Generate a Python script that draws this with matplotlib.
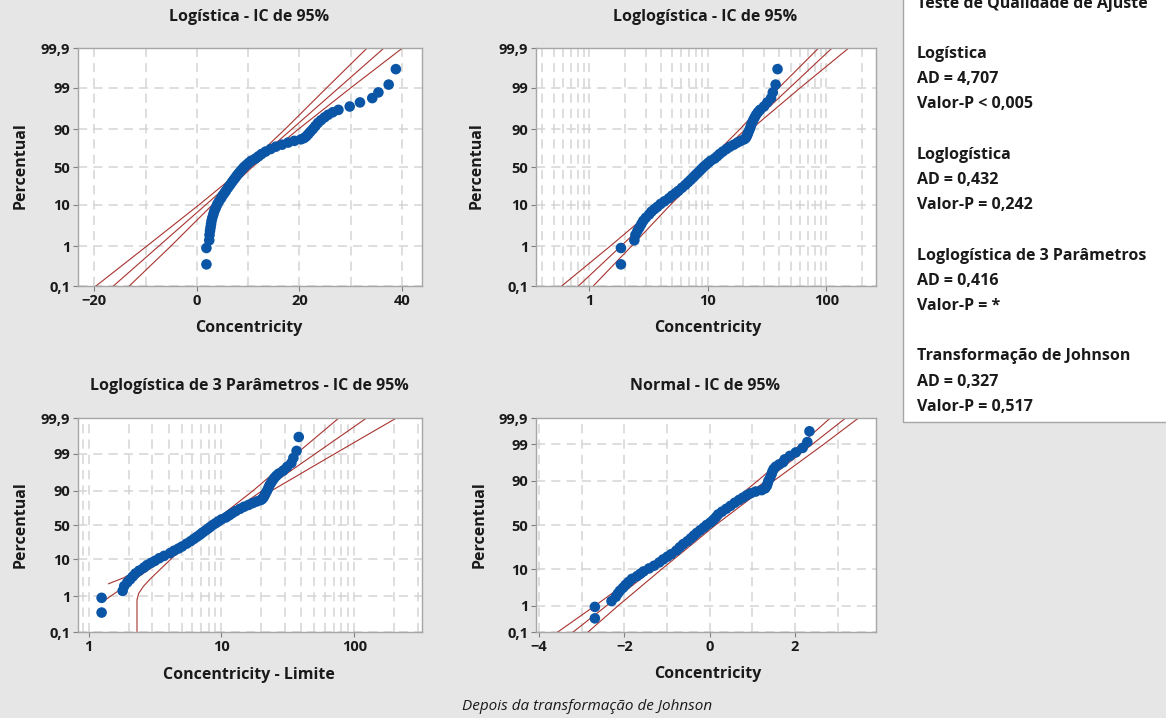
import numpy as np
import matplotlib
matplotlib.use('Agg')
import matplotlib.pyplot as plt
from matplotlib.patches import Rectangle
from matplotlib.ticker import NullLocator, FixedLocator
from statistics import NormalDist

plt.rcParams['font.family'] = ['Open Sans', 'DejaVu Sans']

# percentis (posicao de plotagem) - mesma amostra nos quatro graficos
pct = [0.35, 0.9, 1.4, 1.9, 2.4, 2.9, 3.5, 4.2, 5.0, 6.0, 7.0, 8.0, 9.0, 10.5,
       12, 14, 16, 18, 20, 23, 26, 29, 32, 35, 38, 41, 44, 47, 50, 53, 56, 59,
       62, 65, 68, 71, 74, 76.5, 78.5, 80.5, 82, 83.3, 84.3, 85.5, 87, 88.5, 90,
       91.5, 92.8, 93.8, 94.7, 95.4, 96.0, 96.5, 97.1, 97.7, 98.2, 98.7, 99.17, 99.66]

# Concentricity (dados originais)
conc = [1.85, 1.85, 2.4, 2.45, 2.55, 2.65, 2.75, 2.85, 3.0, 3.2, 3.35, 3.55, 3.75, 4.0,
        4.3, 4.7, 5.0, 5.35, 5.65, 6.05, 6.45, 6.8, 7.15, 7.5, 7.8, 8.15, 8.5, 8.85, 9.2, 9.65, 10.1, 10.6,
        11.4, 12.0, 12.6, 13.4, 14.4, 15.4, 16.6, 17.8, 19.0, 20.3, 20.9, 21.3, 21.7, 22.1, 22.6,
        23.1, 23.6, 24.2, 24.9, 25.6, 26.5, 27.6, 29.8, 31.8, 34.2, 35.4, 37.4, 38.8]

# limite (threshold) da loglogistica de 3 parametros
limite = 0.6

# dados depois da transformacao de Johnson
johnson = [-2.69, -2.69, -2.30, -2.20, -2.15, -2.10, -2.03, -1.97, -1.90, -1.82, -1.70, -1.62, -1.55, -1.42,
           -1.30, -1.18, -1.09, -0.99, -0.90, -0.78, -0.70, -0.62, -0.52, -0.44, -0.37, -0.30, -0.22, -0.14,
           -0.07, 0.02, 0.09, 0.15, 0.20, 0.29, 0.39, 0.49, 0.59, 0.69, 0.78, 0.87, 0.96, 1.08, 1.22, 1.30,
           1.34, 1.36, 1.38, 1.42, 1.45, 1.47, 1.50, 1.55, 1.63, 1.72, 1.76, 1.88, 2.02, 2.18, 2.29, 2.34]

# linha ajustada e IC de 95%
ci_pct = [0.1, 1, 10, 50, 90, 99, 99.9]
fit_pct = [0.1, 99.9]

logis_fit = [-16.3, 36.5]
logis_lo = [-19.7, -9.8, 0.4, 9.4, 17.2, 25.3, 33.2]
logis_hi = [-13.2, -5.1, 3.0, 10.8, 19.8, 30.0, 40.1]

loglog_fit = [0.81, 112]
loglog_lo = [0.585, 1.50, 3.88, 8.97, 18.7, 39.8, 86.3]
loglog_hi = [1.08, 2.27, 4.84, 10.07, 23.3, 60.3, 155]

ll3_fit_pct = [0.8, 99.9]
ll3_fit = [1.34, 124]
ll3_lo_pct = [2.2, 3.2, 10, 50, 90, 99, 99.9]
ll3_lo = [1.41, 1.83, 3.37, 8.1, 17.2, 36.6, 76.6]
ll3_hi_pct = [0.1, 0.8, 1.2, 1.9, 3.0, 11.6, 50, 90.2, 99, 99.9]
ll3_hi = [2.31, 2.31, 2.38, 2.59, 2.91, 4.36, 9.2, 23.9, 71.2, 208]

norm_fit = [-3.2, 3.19]
norm_lo = [-3.56, -2.68, -1.51, -0.14, 1.13, 2.13, 2.83]
norm_hi = [-2.85, -2.14, -1.13, 0.14, 1.51, 2.67, 3.49]

yticks = [0.1, 1, 10, 50, 90, 99, 99.9]
ylabels = ['0,1', '1', '10', '50', '90', '99', '99,9']

resumo = ['Logística', 'AD = 4,707', 'Valor-P < 0,005', '',
          'Loglogística', 'AD = 0,432', 'Valor-P = 0,242', '',
          'Loglogística de 3 Parâmetros', 'AD = 0,416', 'Valor-P = *', '',
          'Transformação de Johnson', 'AD = 0,327', 'Valor-P = 0,517']

W, H = 1166, 718
BG = '#e6e6e6'
AZUL = '#0a55a5'
VERM = '#a8332e'
GRADE = '#d4d4d4'
TXT = '#1a1a1a'
nd = NormalDist()


def logit_fwd(p):
    p = np.clip(np.asarray(p, float), 1e-9, 100 - 1e-9)
    return np.log(p / (100 - p))


def logit_inv(v):
    return 100 / (1 + np.exp(-np.asarray(v, float)))


_ppf = np.vectorize(lambda v: nd.inv_cdf(v / 100), otypes=[float])
_cdf = np.vectorize(lambda v: nd.cdf(v) * 100, otypes=[float])


def norm_fwd(p):
    p = np.clip(np.asarray(p, float), 1e-9, 100 - 1e-9)
    return _ppf(p)


def norm_inv(v):
    return _cdf(np.asarray(v, float))


fig = plt.figure(figsize=(W / 100, H / 100), dpi=100, facecolor=BG)


def px_axes(l, t, r, b):
    return fig.add_axes([l / W, 1 - b / H, (r - l) / W, (b - t) / H])


def ftext(x, y, s, **kw):
    fig.text(x / W, 1 - y / H, s, **kw)


def prepara(ax, escala):
    if escala == 'logit':
        ax.set_yscale('function', functions=(logit_fwd, logit_inv))
    else:
        ax.set_yscale('function', functions=(norm_fwd, norm_inv))
    ax.set_ylim(0.1, 99.9)
    ax.yaxis.set_major_locator(FixedLocator(yticks))
    ax.set_yticklabels(ylabels)
    ax.yaxis.set_minor_locator(NullLocator())
    ax.set_axisbelow(True)
    ax.grid(True, which='both', axis='x', ls=(0, (6, 4)), color=GRADE, lw=1.1)
    ax.grid(True, which='major', axis='y', ls=(0, (6, 4)), color=GRADE, lw=1.1)
    for sp in ax.spines.values():
        sp.set_color('#a6a6a6')
        sp.set_linewidth(1.0)
    ax.tick_params(which='major', length=3.5, width=0.8, color='#808080', pad=2,
                   labelsize=10.5, labelcolor=TXT)
    ax.tick_params(which='minor', length=0)
    for lab in ax.get_xticklabels() + ax.get_yticklabels():
        lab.set_fontweight('bold')


def desenha(ax, x, fx, flo, fhi, fpct_fit, fpct_lo, fpct_hi):
    ax.plot(fx, fpct_fit, color=VERM, lw=0.8, zorder=2)
    ax.plot(flo, fpct_lo, color=VERM, lw=0.8, zorder=2)
    ax.plot(fhi, fpct_hi, color=VERM, lw=0.8, zorder=2)
    ax.scatter(x, pct, s=58, color=AZUL, edgecolors='none', zorder=3)


# Logistica
ax1 = px_axes(78, 48, 422, 286)
desenha(ax1, conc, logis_fit, logis_lo, logis_hi, fit_pct, ci_pct, ci_pct)
ax1.set_xlim(-23.2, 43.9)
ax1.set_xticks([-20, 0, 20, 40])
ax1.xaxis.set_minor_locator(FixedLocator([-10, 10, 30]))
prepara(ax1, 'logit')

# Loglogistica
ax2 = px_axes(536, 48, 876, 286)
ax2.set_xscale('log')
desenha(ax2, conc, loglog_fit, loglog_lo, loglog_hi, fit_pct, ci_pct, ci_pct)
ax2.set_xlim(0.355, 263)
ax2.set_xticks([1, 10, 100])
ax2.set_xticklabels(['1', '10', '100'])
prepara(ax2, 'logit')

# Loglogistica de 3 parametros
ax3 = px_axes(78, 418, 422, 632)
ax3.set_xscale('log')
desenha(ax3, [c - limite for c in conc], ll3_fit, ll3_lo, ll3_hi, ll3_fit_pct, ll3_lo_pct, ll3_hi_pct)
ax3.set_xlim(0.83, 324)
ax3.set_xticks([1, 10, 100])
ax3.set_xticklabels(['1', '10', '100'])
prepara(ax3, 'logit')

# Normal depois da transformacao de Johnson
ax4 = px_axes(536, 418, 876, 632)
desenha(ax4, johnson, norm_fit, norm_lo, norm_hi, fit_pct, ci_pct, ci_pct)
ax4.set_xlim(-4.07, 3.9)
ax4.set_xticks([-4, -2, 0, 2])
ax4.xaxis.set_minor_locator(FixedLocator([-3, -1, 1, 3]))
prepara(ax4, 'normal')

tit = dict(size=11.5, fontweight='bold', ha='center', va='center', color=TXT)
ftext(249, 17, 'Logística - IC de 95%', **tit)
ftext(705, 17, 'Loglogística - IC de 95%', **tit)
ftext(249, 386, 'Loglogística de 3 Parâmetros - IC de 95%', **tit)
ftext(705, 386, 'Normal - IC de 95%', **tit)

ftext(249, 328, 'Concentricity', **tit)
ftext(708, 328, 'Concentricity', **tit)
ftext(249, 675, 'Concentricity - Limite', **tit)
ftext(708, 674, 'Concentricity', **tit)
for xx, yy in [(21, 166), (477, 166), (21, 525), (480, 525)]:
    ftext(xx, yy, 'Percentual', rotation=90, **tit)

ftext(587, 706, 'Depois da transformação de Johnson', size=11, style='italic',
      ha='center', va='center', color=TXT)

# caixa do teste de qualidade de ajuste
fig.patches.append(Rectangle((903 / W, 1 - 422 / H), 0.5, 0.8, transform=fig.transFigure,
                             facecolor='white', edgecolor='#a6a6a6', lw=1.0))
ftext(917, 4, 'Teste de Qualidade de Ajuste', size=11.5, fontweight='bold', ha='left',
      va='center', color=TXT)
for i, linha in enumerate(resumo):
    ftext(917, 54 + i * 25.2, linha, size=11.5, fontweight='bold', ha='left', va='center',
          color=TXT)

fig.savefig('out.png', dpi=100, facecolor=BG)
